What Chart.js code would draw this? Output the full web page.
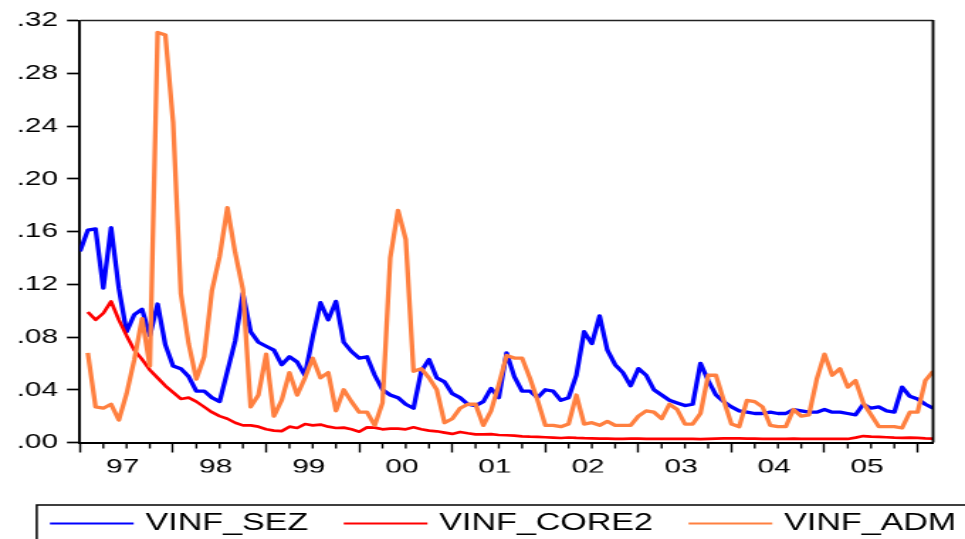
<!DOCTYPE html>
<html>
<head>
<meta charset="utf-8">
<script src="https://cdn.jsdelivr.net/npm/chart.js@4.4.1/dist/chart.umd.min.js"></script>
<style>
  html, body { margin: 0; padding: 0; background: #fff; overflow: hidden; }
  #wrap { width: 680px; height: 539px; transform: scaleX(1.41912); transform-origin: 0 0; }
  #wrap canvas { width: 680px; height: 539px; }
</style>
</head>
<body>
<div id="wrap"><canvas id="chart" width="680" height="539"></canvas></div>
<script>
// monthly observations 1997M01 .. 2006M03
const yearLabels = ['97', '98', '99', '00', '01', '02', '03', '04', '05'];

const vinfSez = [
  0.145, 0.161, 0.162, 0.117, 0.163, 0.117, 0.084, 0.097, 0.101, 0.081, 0.105, 0.074,
  0.058, 0.056, 0.050, 0.039, 0.039, 0.034, 0.031, 0.054, 0.077, 0.113, 0.084, 0.076,
  0.073, 0.070, 0.059, 0.065, 0.061, 0.051, 0.080, 0.106, 0.093, 0.107, 0.076, 0.069,
  0.064, 0.065, 0.051, 0.040, 0.036, 0.034, 0.029, 0.026, 0.054, 0.063, 0.049, 0.046,
  0.037, 0.034, 0.029, 0.028, 0.031, 0.041, 0.034, 0.068, 0.050, 0.039, 0.039, 0.034,
  0.040, 0.039, 0.032, 0.034, 0.051, 0.084, 0.075, 0.096, 0.070, 0.059, 0.053, 0.043,
  0.056, 0.051, 0.040, 0.036, 0.032, 0.030, 0.028, 0.029, 0.060, 0.047, 0.036, 0.031,
  0.027, 0.024, 0.023, 0.022, 0.022, 0.023, 0.022, 0.022, 0.025, 0.024, 0.023, 0.023,
  0.025, 0.023, 0.023, 0.022, 0.021, 0.029, 0.026, 0.027, 0.024, 0.023, 0.042, 0.035,
  0.033, 0.029, 0.026
];

const vinfCore2 = [
  null, 0.099, 0.093, 0.098, 0.107, 0.093, 0.081, 0.070, 0.063, 0.055, 0.049, 0.043,
  0.038, 0.033, 0.034, 0.031, 0.027, 0.023, 0.020, 0.018, 0.015, 0.013, 0.013, 0.012,
  0.010, 0.009, 0.0086, 0.012, 0.011, 0.014, 0.013, 0.0136, 0.012, 0.011, 0.0113, 0.010,
  0.0082, 0.0115, 0.0113, 0.010, 0.0105, 0.0105, 0.010, 0.0115, 0.010, 0.009, 0.0085, 0.0075,
  0.0065, 0.008, 0.007, 0.0062, 0.0062, 0.0063, 0.0057, 0.0055, 0.0052, 0.0047, 0.0044, 0.0042,
  0.004, 0.0037, 0.0034, 0.0038, 0.0035, 0.0033, 0.0032, 0.003, 0.003, 0.0028, 0.0028, 0.003,
  0.003, 0.0028, 0.0027, 0.0027, 0.0028, 0.0027, 0.0027, 0.0028, 0.0025, 0.0028, 0.003, 0.0032,
  0.0032, 0.0032, 0.003, 0.003, 0.0028, 0.0027, 0.0027, 0.0028, 0.003, 0.0028, 0.0027, 0.0027,
  0.0027, 0.0027, 0.0027, 0.0027, 0.0037, 0.0049, 0.0044, 0.0042, 0.004, 0.0037, 0.0035, 0.0037,
  0.0035, 0.0032, 0.003
];

const vinfAdm = [
  null, 0.068, 0.027, 0.026, 0.029, 0.017, 0.037, 0.063, 0.094, 0.058, 0.311, 0.309,
  0.243, 0.113, 0.075, 0.048, 0.065, 0.115, 0.141, 0.178, 0.144, 0.116, 0.027, 0.036,
  0.067, 0.020, 0.032, 0.053, 0.036, 0.049, 0.064, 0.049, 0.053, 0.024, 0.040, 0.031,
  0.023, 0.023, 0.013, 0.030, 0.140, 0.176, 0.154, 0.054, 0.056, 0.049, 0.040, 0.015,
  0.018, 0.026, 0.029, 0.029, 0.013, 0.024, 0.044, 0.066, 0.064, 0.064, 0.049, 0.032,
  0.013, 0.013, 0.012, 0.014, 0.036, 0.014, 0.015, 0.013, 0.016, 0.013, 0.013, 0.013,
  0.020, 0.024, 0.023, 0.018, 0.029, 0.025, 0.014, 0.014, 0.022, 0.051, 0.051, 0.032,
  0.014, 0.012, 0.032, 0.031, 0.027, 0.013, 0.012, 0.012, 0.025, 0.020, 0.021, 0.048,
  0.067, 0.051, 0.056, 0.042, 0.047, 0.030, 0.021, 0.012, 0.012, 0.012, 0.011, 0.023,
  0.023, 0.047, 0.054
];

const FONT = "'Liberation Sans', Arial, sans-serif";
const months = vinfSez.map((v, i) => i);

// EViews look: quarter ticks, top/right frame and the boxed legend
const evFrame = {
  id: 'evFrame',
  afterDraw(chart) {
    const { ctx, chartArea: a, scales: { x } } = chart;
    ctx.save();
    ctx.strokeStyle = '#000';
    ctx.lineWidth = 1.4;
    for (let m = 0; m <= x.max; m += 3) {
      if (m % 12 === 0) continue;
      const px = x.getPixelForValue(m);
      ctx.beginPath(); ctx.moveTo(px, a.bottom); ctx.lineTo(px, a.bottom + 6); ctx.stroke();
    }
    ctx.lineWidth = 1.3; ctx.strokeStyle = '#222';
    ctx.beginPath(); ctx.moveTo(a.left, a.top); ctx.lineTo(a.right, a.top); ctx.stroke();
    ctx.lineWidth = 1.9; ctx.strokeStyle = '#000';
    ctx.beginPath(); ctx.moveTo(a.right, a.top - 0.6); ctx.lineTo(a.right, a.bottom); ctx.stroke();

    const lg = { x: 35.2, y: 523.5, sample: 59, gap: 8.3, spacing: 25, frameLeft: 25.9, frameTop: 505 };
    ctx.lineWidth = 1.5; ctx.strokeStyle = '#000';
    ctx.strokeRect(lg.frameLeft, lg.frameTop, chart.width + 40, 80);
    ctx.font = '24px ' + FONT;
    ctx.textBaseline = 'middle';
    ctx.fillStyle = '#000';
    let cx = lg.x;
    chart.data.datasets.forEach(ds => {
      ctx.strokeStyle = ds.borderColor; ctx.lineWidth = 2.2;
      ctx.beginPath(); ctx.moveTo(cx, lg.y); ctx.lineTo(cx + lg.sample, lg.y); ctx.stroke();
      const tx = cx + lg.sample + lg.gap;
      ctx.fillText(ds.label, tx, lg.y);
      cx = tx + ctx.measureText(ds.label).width + lg.spacing;
    });
    ctx.restore();
  }
};

new Chart(document.getElementById('chart'), {
  type: 'line',
  data: {
    labels: months,
    datasets: [
      { label: 'VINF_SEZ', data: vinfSez, borderColor: '#0000ff', borderWidth: 3.3, order: 3 },
      { label: 'VINF_CORE2', data: vinfCore2, borderColor: '#ff0000', borderWidth: 2.7, order: 2 },
      { label: 'VINF_ADM', data: vinfAdm, borderColor: '#ff8040', borderWidth: 3.3, order: 1 }
    ]
  },
  options: {
    responsive: false,
    animation: false,
    events: [],
    layout: { padding: { left: 12.7, top: 20.5, right: 22.5, bottom: 66.5 } },
    elements: { point: { radius: 0 }, line: { tension: 0, fill: false, borderJoinStyle: 'round' } },
    plugins: { legend: { display: false }, tooltip: { enabled: false } },
    scales: {
      x: {
        type: 'linear',
        min: 0,
        max: months.length - 1,
        afterFit: s => { s.height = 30; },
        afterBuildTicks: s => {
          const t = [];
          for (let m = 0; m <= s.max; m += 12) {
            t.push({ value: m });
            if ((m / 12) < yearLabels.length) t.push({ value: m + 5.5 });
          }
          s.ticks = t;
        },
        grid: {
          drawOnChartArea: false,
          tickLength: 10,
          tickWidth: 1.4,
          tickColor: c => (c.tick && c.tick.value % 12 === 0) ? '#000' : 'rgba(0,0,0,0)'
        },
        border: { color: '#000', width: 2 },
        ticks: {
          autoSkip: false, maxRotation: 0, minRotation: 0, padding: 2,
          color: '#000', font: { family: FONT, size: 21 },
          callback: v => (v % 12 === 5.5) ? yearLabels[(v - 5.5) / 12] : ''
        }
      },
      y: {
        min: 0,
        max: 0.32,
        afterFit: s => { s.width = 43.7; },
        grid: { drawOnChartArea: false, tickLength: 9.2, tickWidth: 1.7, color: '#000' },
        border: { color: '#000', width: 1.9 },
        ticks: {
          stepSize: 0.04, padding: 6.3, color: '#000', font: { family: FONT, size: 21 },
          callback: v => v.toFixed(2).replace(/^0/, '')
        }
      }
    }
  },
  plugins: [evFrame]
});
</script>
</body>
</html>
